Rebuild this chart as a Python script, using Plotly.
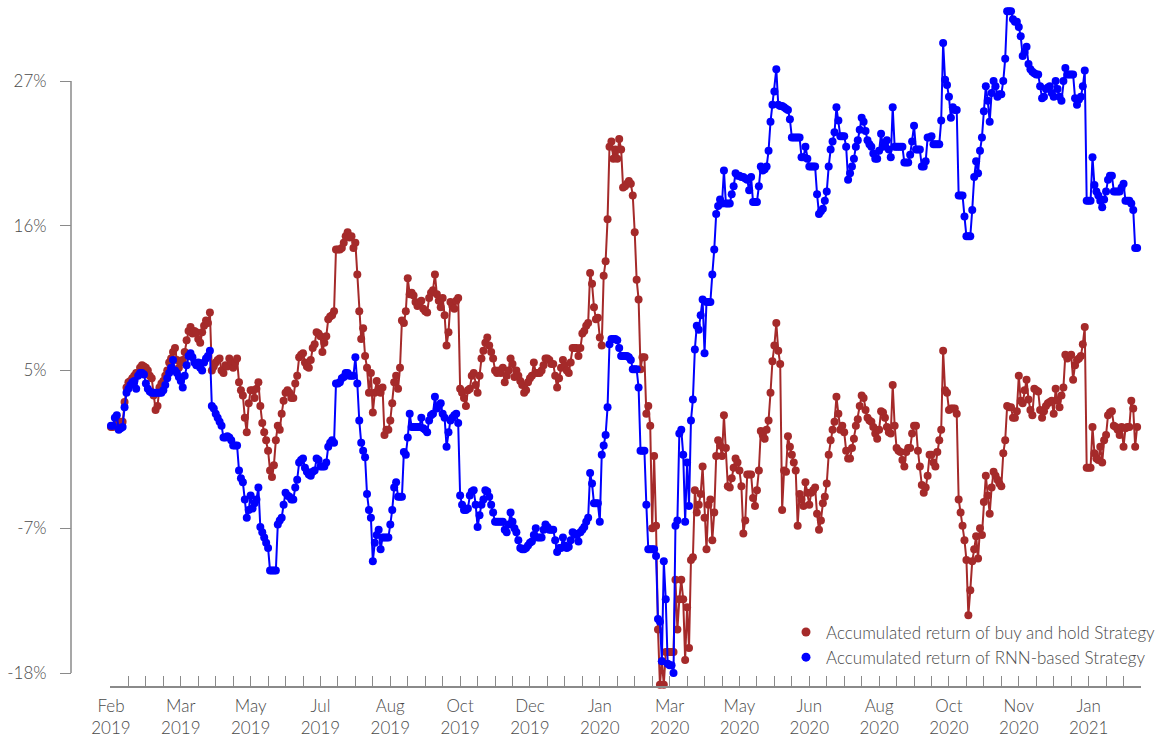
import plotly.graph_objects as go

# ---------------- data (accumulated return, %) ----------------
tick_labels = ["Feb<br>2019", "Mar<br>2019", "May<br>2019", "Jul<br>2019", "Aug<br>2019",
               "Oct<br>2019", "Dec<br>2019", "Jan<br>2020", "Mar<br>2020", "May<br>2020",
               "Jun<br>2020", "Aug<br>2020", "Oct<br>2020", "Nov<br>2020", "Jan<br>2021"]
y_tick_vals = [-18, -7, 5, 16, 27]
y_tick_text = ["-18%", "-7%", "5%", "16%", "27%"]
series_names = ["Accumulated return of buy and hold Strategy",
                "Accumulated return of RNN-based Strategy"]

rnn_based = [
    0.8, 0.8, 1.4, 1.6, 0.5, 0.6, 0.7, 2.2, 3.3, 3.6,
    3.9, 4.1, 4.2, 3.6, 4.6, 4.8, 4.8, 4.7, 4.0, 3.6,
    3.4, 3.3, 3.3, 3.3, 3.3, 3.3, 3.3, 3.5, 3.9, 4.4,
    4.8, 5.2, 5.8, 5.0, 4.8, 4.5, 4.2, 3.7, 4.6, 5.4,
    6.1, 6.3, 6.0, 5.6, 5.4, 5.6, 5.2, 5.0, 5.6, 5.9,
    6.1, 6.5, 2.3, 2.1, 1.7, 1.4, 1.1, 0.8, -0.1, -0.1,
    0.0, -0.1, -0.3, -0.7, -0.7, -0.7, -2.6, -3.2, -3.5, -4.8,
    -6.2, -5.6, -4.5, -5.5, -5.1, -4.8, -3.9, -6.9, -7.3, -7.7,
    -8.1, -8.5, -10.2, -10.2, -10.2, -10.2, -6.7, -6.4, -6.2, -5.2,
    -4.3, -4.5, -4.6, -4.8, -4.8, -3.9, -3.3, -2.0, -1.8, -1.7,
    -2.4, -2.7, -2.9, -3.0, -2.7, -2.6, -1.7, -1.8, -2.3, -2.3,
    -2.3, -2.0, -0.8, -0.5, -0.3, -0.5, 4.0, 4.0, 4.1, 4.4,
    4.5, 4.8, 4.8, 4.6, 4.6, 4.6, 6.0, 4.0, 1.2, -0.5,
    -1.1, -1.6, -4.4, -5.6, -6.2, -9.5, -8.1, -7.5, -7.1, -8.6,
    -7.7, -7.7, -7.7, -7.7, -6.7, -5.6, -3.9, -3.5, -4.6, -4.6,
    -4.6, -1.2, -1.4, -0.1, 1.7, 0.7, 0.7, 0.7, 0.7, 0.7,
    1.4, 0.6, 0.5, 0.3, 1.2, 1.6, 1.7, 3.0, 2.1, 2.3,
    2.5, 1.7, 1.4, -0.8, 0.3, 1.2, 1.4, 1.6, 1.7, 1.0,
    -4.5, -5.2, -5.6, -5.6, -5.5, -4.5, -4.2, -4.1, -5.2, -6.9,
    -6.0, -5.2, -4.8, -4.1, -4.2, -4.6, -5.2, -5.8, -6.5, -6.5,
    -6.5, -6.5, -6.5, -7.1, -7.3, -6.7, -5.8, -6.5, -7.0, -7.3,
    -7.9, -8.5, -8.6, -8.6, -8.5, -8.3, -8.1, -8.0, -7.5, -7.0,
    -7.7, -7.7, -7.7, -7.1, -6.7, -6.9, -7.1, -7.1, -7.1, -7.9,
    -8.8, -8.5, -8.5, -7.7, -8.3, -8.5, -8.4, -7.9, -7.3, -7.4,
    -7.5, -8.0, -7.3, -7.1, -6.9, -6.5, -6.2, -2.8, -3.6, -5.1,
    -5.1, -5.1, -6.5, -1.4, -0.7, 0.1, 2.2, 7.0, 7.4, 7.4,
    7.4, 7.3, 6.7, 6.1, 6.1, 6.1, 6.1, 6.0, 5.8, 5.1,
    5.1, 5.1, 3.7, -1.1, -1.1, -1.1, -5.2, -8.6, -8.6, -8.6,
    -8.6, -9.1, -13.9, -14.1, -17.1, -9.5, -12.4, -17.3, -17.4, -17.4,
    -18.0, -6.8, -6.4, 0.2, 0.5, -1.4, -6.5, -2.0, -5.3, 1.2,
    2.8, 6.6, 8.4, 8.1, 9.2, 10.4, 6.3, 10.2, 10.2, 10.2,
    12.3, 14.2, 16.9, 17.5, 18.0, 17.7, 20.2, 17.7, 17.7, 17.7,
    18.4, 19.0, 20.0, 19.8, 19.8, 19.7, 19.7, 19.6, 19.5, 18.7,
    19.7, 17.8, 17.8, 17.8, 19.0, 20.5, 20.2, 20.3, 20.5, 21.7,
    23.9, 25.2, 26.2, 27.9, 25.2, 25.1, 25.1, 25.0, 24.9, 24.8,
    24.1, 22.7, 22.7, 22.7, 22.7, 22.7, 21.2, 21.2, 22.0, 21.1,
    20.5, 20.5, 20.5, 20.5, 18.4, 16.9, 17.1, 17.3, 17.9, 18.6,
    20.5, 21.8, 22.4, 23.1, 25.0, 24.0, 22.8, 22.8, 22.8, 22.0,
    19.5, 20.0, 20.5, 21.1, 22.0, 22.5, 23.3, 24.2, 23.9, 23.2,
    22.5, 22.2, 22.0, 21.5, 21.1, 21.1, 21.7, 23.0, 22.0, 22.3,
    22.5, 21.8, 21.2, 25.0, 22.0, 22.0, 22.0, 22.0, 22.0, 20.8,
    20.8, 20.8, 21.4, 22.4, 23.6, 21.8, 21.8, 21.8, 20.5, 20.5,
    20.9, 22.7, 22.7, 22.8, 22.2, 22.2, 22.2, 22.2, 24.0, 29.9,
    27.1, 26.7, 25.8, 24.2, 25.0, 24.8, 24.8, 18.3, 18.3, 18.3,
    16.7, 15.2, 15.2, 15.2, 17.2, 19.7, 20.9, 20.0, 21.7, 22.7,
    24.7, 26.6, 25.5, 23.9, 26.1, 27.0, 26.6, 25.8, 26.0, 26.0,
    27.0, 28.7, 32.3, 32.3, 32.3, 31.7, 31.5, 31.5, 31.1, 30.4,
    28.9, 29.2, 29.6, 28.3, 27.9, 27.7, 27.6, 27.5, 27.5, 26.6,
    25.7, 25.8, 26.4, 26.5, 26.6, 26.1, 25.8, 27.0, 26.4, 25.8,
    25.5, 27.0, 28.0, 27.5, 27.5, 27.5, 27.5, 25.7, 25.2, 25.6,
    25.8, 26.6, 27.8, 17.9, 17.9, 17.9, 21.2, 19.1, 18.6, 18.3,
    17.9, 17.4, 18.0, 18.6, 19.5, 19.8, 19.8, 18.6, 18.6, 18.6,
    18.6, 18.9, 19.2, 17.9, 17.9, 17.9, 17.7, 17.2, 14.3, 14.3,
]

buy_and_hold = [
    0.7, 0.7, 0.8, 1.2, 0.8, 1.1, 1.1, 2.6, 3.7, 4.1,
    4.2, 4.4, 4.6, 4.8, 4.8, 5.2, 5.4, 5.3, 5.2, 5.0,
    4.6, 4.4, 3.1, 2.0, 2.3, 3.7, 4.0, 4.2, 4.6, 5.0,
    5.6, 5.9, 6.4, 6.7, 5.8, 5.2, 5.6, 5.8, 6.4, 7.3,
    8.0, 8.3, 7.8, 8.0, 7.9, 7.4, 7.1, 7.9, 8.4, 8.8,
    8.6, 9.4, 5.0, 5.3, 5.6, 5.8, 5.9, 5.0, 4.8, 5.4,
    5.3, 5.9, 5.6, 5.2, 5.6, 5.9, 4.1, 3.5, 3.1, 1.4,
    0.3, 2.5, 3.5, 3.5, 2.9, 3.6, 4.1, 2.3, 1.0, 0.3,
    -0.3, -1.1, -2.6, -3.1, -2.2, -0.3, 0.8, 0.5, 1.7, 2.7,
    3.3, 3.5, 3.3, 2.9, 2.9, 4.0, 4.6, 6.0, 6.2, 6.3,
    5.6, 5.3, 5.2, 5.8, 6.7, 7.0, 7.9, 7.8, 7.6, 6.4,
    7.1, 7.6, 8.9, 9.1, 9.2, 9.5, 14.2, 14.2, 14.2, 14.3,
    14.7, 15.2, 15.5, 15.1, 15.2, 14.3, 14.7, 12.3, 9.5, 7.4,
    8.2, 6.1, 5.2, 3.3, 4.8, 1.8, 3.3, 4.2, 3.6, 3.3,
    3.7, 0.1, 0.5, 0.5, 1.2, 2.5, 4.1, 4.6, 3.6, 5.2,
    8.8, 8.6, 9.5, 12.0, 10.8, 10.9, 10.7, 10.2, 9.9, 10.1,
    10.3, 9.7, 9.5, 9.4, 10.5, 10.9, 11.1, 12.3, 10.8, 10.3,
    9.8, 10.5, 9.2, 6.9, 7.9, 10.2, 9.9, 9.7, 10.3, 10.5,
    3.6, 3.3, 2.9, 2.3, 3.5, 3.6, 4.6, 4.8, 3.9, 3.3,
    4.6, 5.9, 6.5, 7.1, 7.5, 6.9, 6.4, 5.9, 5.0, 4.8,
    5.0, 4.8, 5.2, 4.1, 4.6, 5.0, 5.9, 5.5, 4.5, 5.0,
    4.6, 4.2, 3.9, 3.3, 3.5, 4.1, 4.4, 4.6, 5.6, 4.8,
    4.8, 4.8, 5.0, 5.4, 5.9, 5.9, 5.8, 5.5, 5.5, 4.6,
    3.7, 4.4, 5.2, 5.8, 5.4, 5.0, 4.8, 5.6, 6.7, 6.7,
    6.7, 6.1, 6.7, 7.8, 8.0, 8.4, 8.6, 12.4, 11.6, 9.8,
    8.9, 9.0, 7.5, 6.9, 12.2, 13.3, 16.5, 22.0, 22.4, 21.1,
    21.8, 21.1, 22.6, 21.8, 18.9, 19.0, 19.2, 19.4, 19.2, 18.3,
    15.5, 11.9, 10.4, 5.1, 6.0, 6.0, 1.7, 2.3, 0.8, -7.0,
    -1.5, -6.8, -14.7, -18.9, -17.1, -18.9, -16.4, -16.4, -16.4, -16.4,
    -16.4, -10.9, -14.7, -12.4, -10.9, -12.4, -17.0, -13.0, -16.1, -9.4,
    -9.2, -4.1, -5.8, -5.2, -4.4, -2.3, -6.2, -8.6, -5.2, -4.8,
    -7.9, -5.8, -1.5, -0.3, -0.7, -1.5, 1.6, -0.9, -3.8, -3.9,
    -3.2, -2.4, -1.7, -2.0, -2.6, -3.8, -7.4, -6.4, -2.9, -2.9,
    -2.9, -4.7, -5.3, -4.1, -2.6, 0.4, 0.1, -0.2, 0.5, 1.2,
    3.3, 5.7, 6.9, 8.6, 6.5, 5.5, -5.6, -2.6, -2.7, 0.0,
    -0.8, -1.4, -2.0, -2.6, -6.8, -4.4, -4.8, -5.3, -3.5, -4.3,
    -5.2, -4.3, -4.1, -3.9, -5.9, -7.1, -6.4, -5.1, -4.6, -3.6,
    -1.4, -0.3, 0.5, 1.1, 3.0, 1.7, 0.5, 0.8, 0.3, -1.1,
    -1.7, -1.7, -0.9, -0.2, 0.8, 1.3, 2.3, 3.1, 2.9, 2.0,
    1.4, 1.2, 1.1, 0.7, 0.2, -0.2, 0.5, 1.9, 1.8, 1.4,
    0.7, 0.3, 0.2, 3.9, 0.8, -0.9, -1.1, -1.2, -1.8, -2.3,
    -1.2, -0.9, -0.9, 0.2, 0.8, 0.8, -1.1, -2.3, -3.7, -4.3,
    -3.9, -3.0, -1.4, -1.4, -2.0, -2.3, -1.2, -0.3, 0.5, 6.5,
    3.5, 3.3, 2.0, 2.1, 2.1, 2.1, 1.7, -4.8, -5.8, -6.8,
    -7.9, -9.4, -13.6, -11.7, -9.5, -8.6, -7.6, -9.3, -7.0, -7.5,
    -5.0, -3.0, -4.5, -5.9, -3.9, -2.7, -3.0, -3.3, -3.6, -3.8,
    -1.3, -0.3, 2.3, 2.2, 2.2, 1.4, 1.4, 1.9, 4.6, 2.7,
    2.5, 3.5, 4.3, 2.8, 2.0, 1.6, 3.6, 3.5, 3.4, 2.0,
    1.4, 1.9, 2.3, 2.5, 2.6, 2.7, 1.7, 3.6, 2.7, 2.2,
    3.1, 3.7, 6.2, 5.9, 6.1, 6.2, 4.3, 5.4, 5.8, 5.9,
    6.1, 7.0, 8.3, -2.4, -2.4, -2.4, 0.7, -1.3, -1.7, -1.8,
    -0.8, -2.0, -0.3, 0.1, 1.6, 1.8, 1.9, 0.8, 0.7, 0.5,
    0.1, 0.7, -0.8, 0.6, 0.7, 0.7, 2.7, 2.1, -0.8, 0.7,
]

# ---------------- styling ----------------
RED = "#A52A2A"
BLUE = "#0000FF"
AXIS_GREY = "#8a8a8a"
TEXT_GREY = "#4a4a4a"
FONT = "Lato, 'Open Sans', sans-serif"
FS = 17

days_per_minor_tick = 9
minor_per_label = 4
n_days = max(len(rnn_based), len(buy_and_hold))
day_index = list(range(n_days))
last_tick = ((n_days + days_per_minor_tick - 1) // days_per_minor_tick) * days_per_minor_tick
tick_positions = list(range(0, last_tick + 1, days_per_minor_tick))
tick_text = []
for k, _ in enumerate(tick_positions):
    if k % minor_per_label == 0 and k // minor_per_label < len(tick_labels):
        tick_text.append(tick_labels[k // minor_per_label])
    else:
        tick_text.append("")

fig = go.Figure()
fig.add_trace(go.Scatter(x=day_index, y=buy_and_hold, mode="lines+markers",
                         line=dict(color=RED, width=2), marker=dict(color=RED, size=8),
                         showlegend=False, cliponaxis=False))
fig.add_trace(go.Scatter(x=day_index, y=rnn_based, mode="lines+markers",
                         line=dict(color=BLUE, width=2), marker=dict(color=BLUE, size=8),
                         showlegend=False, cliponaxis=False))
# legend entries (dot only)
for name, col in zip(series_names, [RED, BLUE]):
    fig.add_trace(go.Scatter(x=[None], y=[None], mode="markers", name=name,
                             marker=dict(color=col, size=9)))

W, H = 1161, 740
ml, mr, mt, mb = 71, 0, 0, 40
plot_w = W - ml - mr
x_left_px, x_right_px = 110, 1141   # axis line extent in page px
dom0 = (x_left_px - ml) / plot_w
dom1 = (x_right_px - ml) / plot_w

fig.update_layout(
    width=W, height=H,
    margin=dict(l=ml, r=mr, t=mt, b=mb, autoexpand=False),
    paper_bgcolor="white", plot_bgcolor="white",
    font=dict(family=FONT, size=FS, color=TEXT_GREY, weight=300),
    xaxis=dict(
        domain=[dom0, dom1], range=[-0.5, last_tick], anchor="free", position=13 / 700,
        showgrid=False, zeroline=False, showline=True, linecolor=AXIS_GREY, linewidth=1.5,
        tickmode="array", tickvals=tick_positions, ticktext=tick_text,
        ticks="inside", ticklen=10, tickwidth=1, tickcolor=AXIS_GREY,
        tickfont=dict(size=FS, color=TEXT_GREY), automargin=False, ticklabelstandoff=4,
    ),
    yaxis=dict(
        range=[-20.05, 33.16], anchor="free", position=0,
        showgrid=False, zeroline=False, showline=False,
        tickmode="array", tickvals=y_tick_vals, ticktext=y_tick_text,
        ticks="outside", ticklen=11, tickwidth=1, tickcolor=AXIS_GREY,
        tickfont=dict(size=FS, color=TEXT_GREY), automargin=False, ticklabelstandoff=10,
    ),
    legend=dict(x=1.0, xanchor="right", y=0.035, yanchor="bottom",
                bgcolor="rgba(255,255,255,0)", font=dict(size=FS, color=TEXT_GREY),
                itemwidth=30, tracegroupgap=0),
    shapes=[dict(type="line", xref="paper", yref="y", x0=0, x1=0,
                 y0=min(y_tick_vals), y1=max(y_tick_vals),
                 line=dict(color=AXIS_GREY, width=1.5))],
)

fig.write_html("out.html")
